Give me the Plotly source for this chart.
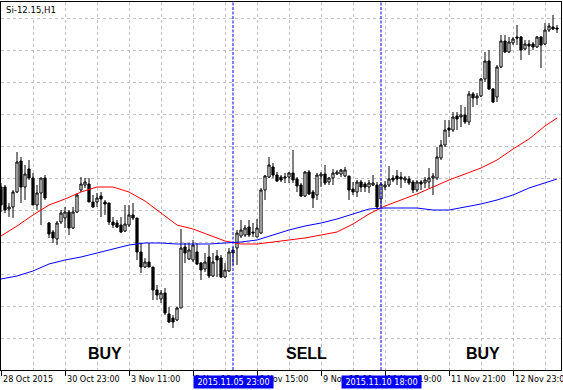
import plotly.graph_objects as go

# ---------------- data (Si-12.15, H1) ----------------
bars = list(range(140))

opens = [65130,65130,64910,64930,65080,65390,65130,65310,65220,64950,
         65070,65220,64770,64680,64610,64780,64820,64880,64720,64880,
         65100,65150,65160,64980,64980,65040,64980,64970,64780,64770,
         64750,64690,64750,64850,64820,64480,64330,64380,64330,64100,
         64010,64070,63860,63820,63800,63920,64530,64410,64400,64480,
         64370,64310,64430,64240,64440,64420,64230,64290,64500,64520,
         64640,64650,64730,64680,64630,64670,65100,65230,65330,65250,
         65230,65220,65230,65270,65210,65150,65040,65280,65080,65050,
         65240,65260,65180,65220,65260,65260,65240,65240,65110,65080,
         65180,65160,65130,65150,65150,65010,65130,65150,65220,65240,
         65230,65200,65210,65180,65100,65180,65170,65180,65220,65220,
         65420,65550,65720,65700,65840,65830,65850,65780,66060,66020,
         66040,66210,66390,66110,66030,66330,66590,66480,66570,66630,
         66630,66510,66560,66560,66530,66630,66560,66700,66730,66720]

highs = [65170,65150,64970,65100,65480,65430,65350,65400,65270,65150,
         65220,65250,64780,64700,64790,64900,64930,64900,64930,65070,
         65230,65220,65220,65050,65070,65080,65000,64970,64830,64800,
         64830,64950,64950,64970,64820,64570,64420,64570,64330,64150,
         64100,64120,63930,63850,63930,64710,64570,64570,64600,64570,
         64380,64470,64550,64470,64500,64450,64370,64520,64530,64700,
         64800,64750,64800,64770,64810,65120,65250,65430,65370,65280,
         65250,65270,65280,65500,65230,65170,65290,65300,65100,65270,
         65280,65350,65230,65310,65300,65310,65330,65240,65180,65200,
         65200,65180,65200,65250,65180,65180,65190,65340,65250,65300,
         65280,65240,65240,65200,65200,65200,65230,65320,65270,65530,
         65600,65800,65800,65880,65880,65950,65930,66090,66080,66070,
         66220,66480,66500,66120,66350,66650,66650,66630,66630,66750,
         66640,66600,66600,66580,66640,66640,66770,66770,66850,66750]

lows = [64880,64870,64830,64820,65070,64970,65000,65200,64950,64900,
        64750,65000,64620,64570,64550,64760,64720,64650,64710,64870,
        65080,65120,64980,64920,64930,64830,64850,64750,64720,64720,
        64670,64680,64730,64800,64400,64270,64320,64330,64000,64000,
        63970,63850,63770,63720,63790,63920,64370,64400,64380,64350,
        64200,64280,64220,64230,64230,64220,64220,64280,64350,64350,
        64620,64630,64630,64630,64630,64660,65000,65220,65220,65180,
        65180,65170,65170,65170,65080,65030,65030,65050,64920,65000,
        65130,65150,65150,65150,65250,65230,65230,65000,65050,65030,
        65080,65080,65070,65140,64920,64920,65100,65130,65180,65150,
        65120,65170,65150,65070,65080,65100,65120,65120,65050,65200,
        65400,65530,65630,65680,65700,65730,65760,65750,65930,65950,
        66030,66180,66100,65970,65980,66320,66470,66470,66550,66550,
        66400,66500,66450,66500,66520,66320,66550,66680,66700,66670]

closes = [64950,64900,64930,65080,65380,65130,65260,65220,64950,65070,
          65220,65020,64660,64620,64770,64870,64880,64720,64880,65050,
          65160,65180,64980,64930,65020,65010,64960,64780,64750,64730,
          64680,64760,64850,64820,64480,64330,64380,64330,64100,64050,
          64070,63870,63780,63780,63920,64520,64470,64500,64550,64360,
          64300,64380,64240,64380,64400,64230,64300,64480,64470,64670,
          64700,64720,64650,64670,64720,65100,65240,65350,65250,65190,
          65200,65230,65270,65200,65140,65040,65280,65060,65020,65250,
          65260,65170,65220,65270,65280,65300,65300,65100,65080,65180,
          65130,65130,65170,65170,64930,65160,65150,65210,65200,65210,
          65210,65220,65170,65100,65180,65160,65200,65220,65240,65430,
          65550,65700,65700,65830,65810,65850,65780,66060,66020,66040,
          66210,66390,66110,65980,66330,66590,66480,66580,66610,66620,
          66500,66560,66540,66530,66630,66550,66700,66740,66710,66710]

ma_bars = [0,4,8,12,16,20,24,28,32,36,40,44,48,52,56,60,64,68,72,76,
           80,84,88,92,96,100,104,108,112,116,120,124,128,132,136,139]
ma_fast = [64640,64740,64850,64950,65010,65080,65130,65130,65080,64990,
           64870,64750,64710,64650,64590,64560,64560,64580,64600,64620,
           64650,64680,64760,64860,64940,65000,65060,65130,65200,65260,
           65320,65400,65510,65610,65740,65820]
ma_slow = [64210,64240,64290,64360,64400,64430,64470,64510,64550,64570,
           64570,64560,64560,64560,64570,64580,64600,64650,64700,64740,
           64770,64810,64860,64910,64920,64920,64920,64900,64900,64930,
           64960,65000,65050,65120,65170,65210]

tick_bars = [0,16,32,48,64,80,96,112,128]
tick_labels = ["28 Oct 2015","30 Oct 23:00","3 Nov 11:00","5 Nov 13:00",
               "6 Nov 15:00","9 Nov 17:00","10 Nov 19:00","11 Nov 21:00",
               "12 Nov 23:00"]

signal_bars = [58, 95]
signal_labels = ["2015.11.05 23:00", "2015.11.10 18:00"]

zone_labels = ["BUY", "SELL", "BUY"]

# ---------------- figure ----------------
FONT = "DejaVu Sans Condensed, Liberation Sans, Arial, sans-serif"
GRID = "#c0c0c0"
FS = 9

fig = go.Figure()
fig.add_trace(go.Candlestick(
    x=bars, open=opens, high=highs, low=lows, close=closes,
    increasing=dict(line=dict(color="black", width=1), fillcolor="white"),
    decreasing=dict(line=dict(color="black", width=1), fillcolor="black"),
    whiskerwidth=0, showlegend=False, hoverinfo="skip"))
fig.add_trace(go.Scatter(x=ma_bars, y=ma_fast, mode="lines",
                         line=dict(color="#ff0000", width=1), hoverinfo="skip"))
fig.add_trace(go.Scatter(x=ma_bars, y=ma_slow, mode="lines",
                         line=dict(color="#0000ff", width=1), hoverinfo="skip"))

for xb in signal_bars:
    fig.add_shape(type="line", xref="x", yref="paper", x0=xb, x1=xb, y0=0, y1=1,
                  line=dict(color="#0000ff", width=1, dash="3px,1.5px"))

# time-axis labels (left-aligned at their tick, MetaTrader style)
for xb, txt in zip(tick_bars, tick_labels):
    fig.add_annotation(x=xb, xref="x", y=0, yref="paper", yanchor="top",
                       xanchor="left", xshift=1, yshift=-3, text=txt,
                       showarrow=False, borderpad=0,
                       font=dict(family=FONT, size=FS, color="black"))

for xb, txt in zip(signal_bars, signal_labels):
    fig.add_annotation(x=xb, xref="x", y=0, yref="paper", yanchor="top",
                       xanchor="center", yshift=-5, text=txt, showarrow=False,
                       bgcolor="#0000ff", borderpad=0, width=79, height=12,
                       align="center",
                       font=dict(family=FONT, size=FS, color="white"))

zone_x = [26, 76.4, 120.4]
for xz, txt in zip(zone_x, zone_labels):
    fig.add_annotation(x=xz, xref="x", y=63465, yref="y", text=txt,
                       showarrow=False,
                       font=dict(family="Liberation Sans, Arial", size=16,
                                 color="black", weight="bold"))

fig.add_annotation(x=0, xref="paper", y=1, yref="paper", xanchor="left",
                   yanchor="top", xshift=3, yshift=0, text="Si-12.15,H1",
                   showarrow=False, bgcolor="white", borderpad=1,
                   font=dict(family=FONT, size=9.5, color="black"))

fig.update_layout(
    width=563, height=390,
    margin=dict(l=1, r=2, t=2, b=20, autoexpand=False),
    paper_bgcolor="white", plot_bgcolor="white",
    showlegend=False, boxgap=0.45, boxgroupgap=0,
    xaxis=dict(
        range=[0, 140], tickmode="array", tickvals=tick_bars,
        showticklabels=False, automargin=False,
        ticks="outside", ticklen=5, tickcolor="black", tickwidth=1,
        showgrid=True, gridcolor=GRID, gridwidth=1, griddash="3px,3px",
        minor=dict(tickvals=list(range(8, 140, 16)), showgrid=True,
                   gridcolor=GRID, gridwidth=1, griddash="3px,3px", ticks=""),
        showline=True, mirror=True, linecolor="black", linewidth=1,
        zeroline=False, rangeslider=dict(visible=False), fixedrange=True),
    yaxis=dict(
        range=[63300, 66980], tickmode="linear", tick0=63620, dtick=320,
        showticklabels=False, ticks="", automargin=False,
        showgrid=True, gridcolor=GRID, gridwidth=1, griddash="3px,3px",
        showline=True, mirror=True, linecolor="black", linewidth=1,
        zeroline=False, fixedrange=True),
)

fig.write_html("out.html")
